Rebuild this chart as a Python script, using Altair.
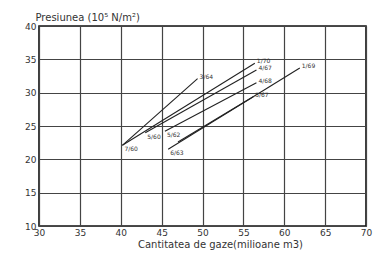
import altair as alt
import pandas as pd

# segments: start (x0, y0) -> end (x1, y1)
x0 = [40.2, 40.2, 43.0, 45.4, 45.8, 47.0]
y0 = [22.1, 22.1, 24.0, 24.2, 21.5, 22.6]
x1 = [49.4, 56.4, 56.6, 56.6, 61.9, 56.2]
y1 = [32.1, 34.4, 33.4, 31.5, 33.7, 29.4]
start_labels = ["7/60", "", "5/60", "5/62", "6/63", ""]
end_labels = ["3/64", "1/70", "4/67", "4/68", "1/69", "5/67"]

x_ticks = [30, 35, 40, 45, 50, 55, 60, 65, 70]
y_ticks = [10, 15, 20, 25, 30, 35, 40]

df = pd.DataFrame({"x0": x0, "y0": y0, "x1": x1, "y1": y1,
                   "sl": start_labels, "el": end_labels})

xs = alt.Scale(domain=[30, 70], nice=False, zero=False)
ys = alt.Scale(domain=[10, 40], nice=False, zero=False)
FONT = "DejaVu Sans"

xaxis = alt.Axis(values=x_ticks, title="Cantitatea de gaze(milioane m3)",
                 grid=True, ticks=False, domain=False, labelPadding=2,
                 labelOverlap=False, labelFlush=False,
                 titleX=181, titleY=13, titleBaseline="top",
                 titleFontWeight="normal")
yaxis = alt.Axis(values=y_ticks, title="Presiunea (10⁵ N/m²)",
                 grid=True, ticks=False, domain=False, labelPadding=3,
                 labelOverlap=False, labelFlush=False,
                 titleAngle=0, titleAlign="left", titleX=-4, titleY=-4,
                 titleBaseline="bottom", titleFontWeight="normal")

base = alt.Chart(df)
lines = base.mark_rule(color="#222", strokeWidth=1.1).encode(
    x=alt.X("x0:Q", scale=xs, axis=xaxis),
    y=alt.Y("y0:Q", scale=ys, axis=yaxis),
    x2="x1:Q", y2="y1:Q")

slab = base.mark_text(align="left", baseline="top", dx=2, dy=1, fontSize=6,
                      font=FONT, color="#333").encode(
    x=alt.X("x0:Q", scale=xs, axis=xaxis), y=alt.Y("y0:Q", scale=ys, axis=yaxis),
    text="sl:N")
elab = base.mark_text(align="left", baseline="bottom", dx=2, dy=1, fontSize=6,
                      font=FONT, color="#333").encode(
    x=alt.X("x1:Q", scale=xs, axis=xaxis), y=alt.Y("y1:Q", scale=ys, axis=yaxis),
    text="el:N")

chart = alt.layer(lines, slab, elab).properties(
    width=327, height=200,
    background="white",
    autosize=alt.AutoSizeParams(type="none"),
    padding={"left": 39, "top": 26, "right": 14, "bottom": 30},
).configure_view(stroke="#111", strokeWidth=1.6).configure_axis(
    gridColor="#444", gridWidth=1.2, gridOpacity=1,
    labelFont=FONT, labelFontSize=9, labelColor="#333",
    titleFont=FONT, titleFontSize=10, titleColor="#333",
)

chart.save("out.html", embed_options={"renderer": "svg", "actions": False})
